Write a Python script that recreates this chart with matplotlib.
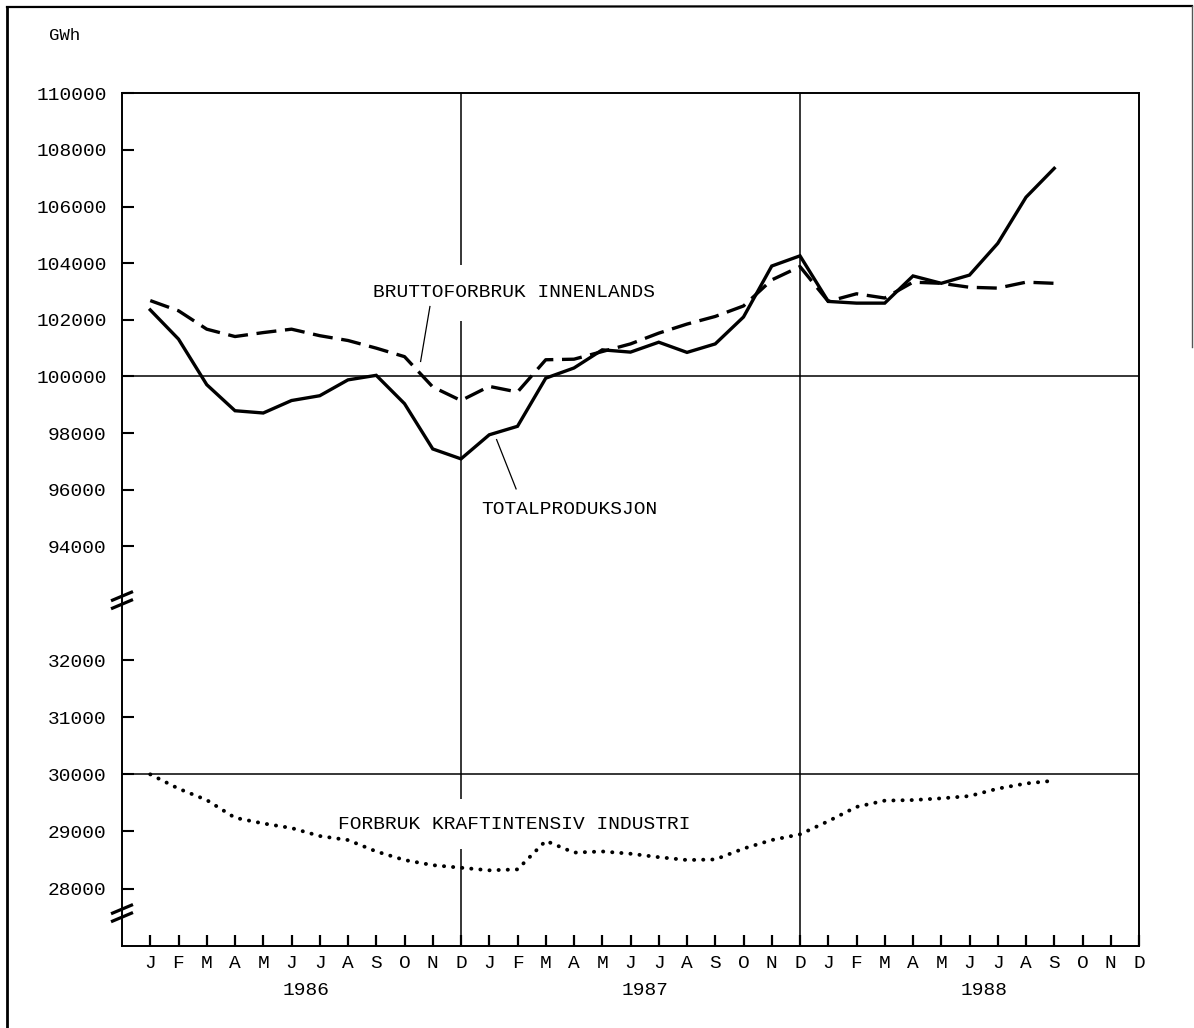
import matplotlib
matplotlib.use("Agg")
import matplotlib.pyplot as plt
from matplotlib.lines import Line2D
import numpy as np

# ---------------- data ----------------
month_letters = ["J", "F", "M", "A", "M", "J", "J", "A", "S", "O", "N", "D"] * 3
years = ["1986", "1987", "1988"]

# monthly index: 0 = Jan 1986 ... 32 = Sep 1988
totalproduksjon = [102350, 101320, 99710, 98790, 98710, 99150, 99320, 99880, 100040, 99040, 97440, 97090,
                   97940, 98240, 99940, 100300, 100940, 100860, 101210, 100850, 101150, 102100, 103900, 104260,
                   102650, 102590, 102590, 103550, 103290, 103580, 104700, 106330, 107350]
bruttoforbruk = [102680, 102320, 101670, 101410, 101550, 101670, 101440, 101270, 101000, 100700, 99630, 99150,
                 99650, 99450, 100590, 100610, 100880, 101150, 101530, 101850, 102120, 102490, 103410, 103880,
                 102650, 102920, 102770, 103330, 103290, 103150, 103120, 103330, 103290]
kraftintensiv = [30000, 29750, 29550, 29240, 29140, 29060, 28920, 28850, 28650, 28500, 28410, 28365,
                 28320, 28336, 28836, 28630, 28650, 28610, 28550, 28500, 28510, 28700, 28850, 28950,
                 29180, 29430, 29540, 29550, 29580, 29620, 29750, 29840, 29890]

upper_ticks = [94000, 96000, 98000, 100000, 102000, 104000, 106000, 108000, 110000]
lower_ticks = [28000, 29000, 30000, 31000, 32000]

# ---------------- figure ----------------
FONT = "Liberation Mono"
plt.rcParams["font.family"] = [FONT, "DejaVu Sans Mono"]

W, H = 1194, 1028
fig = plt.figure(figsize=(W / 100, H / 100), dpi=100)

L, R = 122 / W, 1139 / W
y_top, y_mid, y_bot = 1 - 93.3 / H, 1 - 603 / H, 1 - 945.7 / H
ax1 = fig.add_axes([L, y_mid, R - L, y_top - y_mid])
ax2 = fig.add_axes([L, y_bot, R - L, y_mid - y_bot], sharex=ax1)

x = np.arange(len(totalproduksjon))
n_months = len(month_letters)

for ax in (ax1, ax2):
    ax.set_xlim(-1, n_months - 1)
    for s in ax.spines.values():
        s.set_linewidth(1.4)
    ax.tick_params(axis="y", direction="in", length=8.5, width=1.5, labelsize=14,
                   pad=11, left=True, right=False)
    ax.axvline(11, color="black", lw=1.1, zorder=1)
    ax.axvline(23, color="black", lw=1.1, zorder=1)

ax1.spines["bottom"].set_visible(False)
ax2.spines["top"].set_visible(False)
ax1.tick_params(axis="x", bottom=False, labelbottom=False)

ax1.set_ylim(92000, 110000)
ax1.set_yticks(upper_ticks)
ax1.set_yticklabels([str(v) for v in upper_ticks])
ax2.set_ylim(27000, 33000)
ax2.set_yticks(lower_ticks)
ax2.set_yticklabels([str(v) for v in lower_ticks])

ax1.axhline(100000, color="black", lw=1.1, zorder=1)
ax2.axhline(30000, color="black", lw=1.1, zorder=1)

ax2.set_xticks(np.arange(n_months))
ax2.set_xticklabels(month_letters)
ax2.tick_params(axis="x", direction="in", length=8, width=1.6, labelsize=14, pad=6.5)

for k, yr in enumerate(years):
    ax2.annotate(yr, xy=(5.5 + 12 * k, 0), xycoords=("data", "axes fraction"),
                 xytext=(0, -32.5), textcoords="offset points",
                 ha="center", va="center", fontsize=14)

# series
ax1.plot(x, totalproduksjon, color="black", lw=2.4, zorder=5, solid_joinstyle="miter")
ax1.plot(x, bruttoforbruk, color="black", lw=2.4, zorder=5, linestyle=(0, (6, 2.6)))
ax2.plot(x, kraftintensiv, color="black", lw=2.8, zorder=5, linestyle=(0, (0.05, 2.3)),
         dash_capstyle="round")

# labels
bb = dict(facecolor="white", edgecolor="none", pad=14)
ax1.text(7.87, 102790, "BRUTTOFORBRUK INNENLANDS", fontsize=14, ha="left", va="baseline",
         zorder=3, bbox=bb)
ax1.plot([9.90, 9.57], [102470, 100530], color="black", lw=0.9, zorder=6)
ax1.text(11.73, 95150, "TOTALPRODUKSJON", fontsize=14, ha="left", va="baseline", zorder=3)
ax1.plot([12.26, 12.95], [97770, 96030], color="black", lw=0.9, zorder=6)
ax2.text(6.63, 29050, "FORBRUK KRAFTINTENSIV INDUSTRI", fontsize=14, ha="left", va="baseline",
         zorder=3, bbox=dict(facecolor="white", edgecolor="none", pad=12))

fig.text(64.5 / W, 1 - 36 / H, "GWh", fontsize=12.5, ha="center", va="center")

# axis break marks
def break_mark(ax, val):
    pos = ax.get_position()
    lo, hi = ax.get_ylim()
    yf = pos.y0 + (val - lo) / (hi - lo) * pos.height
    xf = pos.x0
    dx, dy = 9.5 / W, 4.0 / H
    for off in (-4.0 / H, 4.0 / H):
        fig.add_artist(Line2D([xf - dx, xf + dx], [yf + off - dy, yf + off + dy],
                              transform=fig.transFigure, color="black", lw=2.3))

break_mark(ax1, 92100)
break_mark(ax2, 27570)

# outer frame
fig.add_artist(Line2D([7 / W, 7 / W], [0, 1 - 7 / H], transform=fig.transFigure, color="black", lw=2.0))
fig.add_artist(Line2D([7 / W, 1192 / W], [1 - 7 / H, 1 - 6 / H], transform=fig.transFigure, color="black", lw=1.6))
fig.add_artist(Line2D([1192 / W, 1192 / W], [1 - 6 / H, 1 - 347 / H], transform=fig.transFigure,
                      color="#555555", lw=1.0))

fig.savefig("out.png", dpi=100)
